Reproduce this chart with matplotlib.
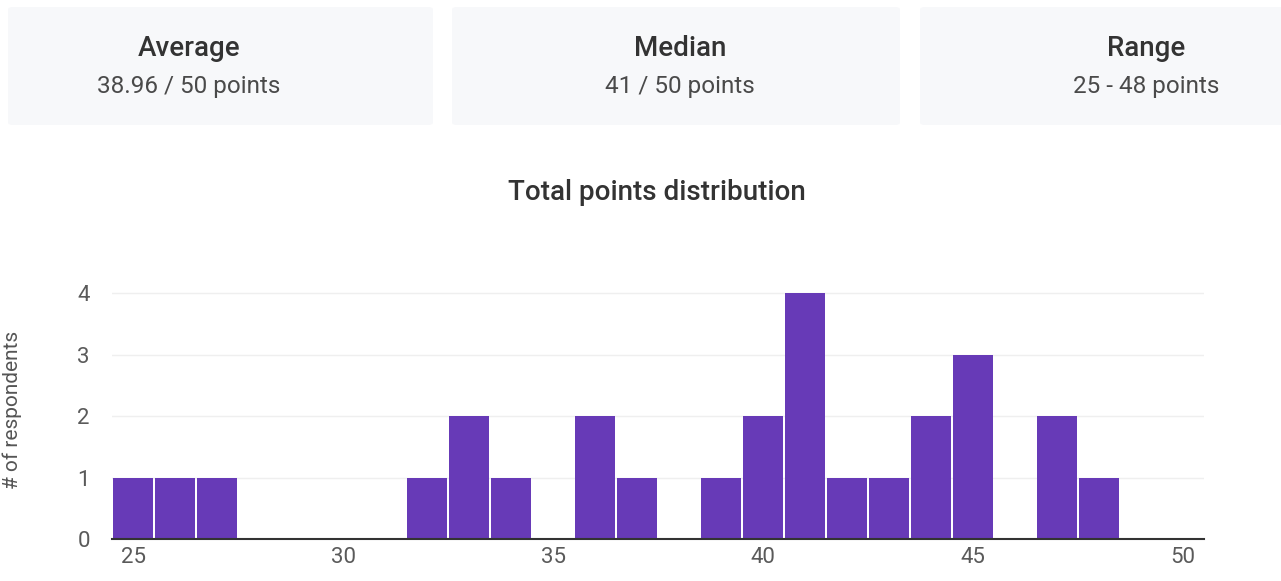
import matplotlib.pyplot as plt
from matplotlib.patches import FancyBboxPatch

plt.rcParams['font.family'] = ['Roboto', 'DejaVu Sans']

# score -> number of respondents
scores = [25, 26, 27, 32, 33, 34, 36, 37, 39, 40, 41, 42, 43, 44, 45, 47, 48]
counts = [1, 1, 1, 1, 2, 1, 2, 1, 1, 2, 4, 1, 1, 2, 3, 2, 1]

card_titles = ['Average', 'Median', 'Range']
card_values = ['38.96 / 50 points', '41 / 50 points', '25 - 48 points']
x_ticks = [25, 30, 35, 40, 45, 50]
y_ticks = [0, 1, 2, 3, 4]

fig = plt.figure(figsize=(12.81, 5.81), dpi=100)
W, H = 1281, 581

# summary cards along the top
card_boxes = [(8, 433), (452, 900), (920, 1290)]
card_centres = [189, 680, 1146]
for (x0, x1), cx, title, value in zip(card_boxes, card_centres, card_titles, card_values):
    box = FancyBboxPatch((x0 / W, 1 - 125 / H), (x1 - x0) / W, 118 / H,
                         boxstyle='round,pad=0,rounding_size=0.004',
                         transform=fig.transFigure, facecolor='#f7f8fa',
                         edgecolor='none', zorder=0)
    fig.patches.append(box)
    fig.text(cx / W, 1 - 48 / H, title, ha='center', va='center',
             fontsize=20, color='#333333', fontweight='medium')
    fig.text(cx / W, 1 - 86 / H, value, ha='center', va='center',
             fontsize=17.5, color='#4a4a4a')

fig.text(657 / W, 1 - 193 / H, 'Total points distribution', ha='center',
         va='center', fontsize=20, color='#333333', fontweight='medium')

ax = fig.add_axes([112 / W, 1 - 539 / H, (1204 - 112) / W, (539 - 290) / H])
ax.bar(scores, counts, width=0.94, color='#673ab7', zorder=3)
ax.set_xlim(24.5, 50.5)
ax.set_ylim(0, 4.05)
ax.set_xticks(x_ticks)
ax.set_yticks(y_ticks)
ax.tick_params(length=0, labelsize=16, labelcolor='#5a5a5a')
ax.tick_params(axis='x', pad=6)
ax.tick_params(axis='y', pad=16)
ax.grid(axis='y', color='#efefef', linewidth=1, zorder=0)
for side in ['top', 'right', 'left']:
    ax.spines[side].set_visible(False)
ax.spines['bottom'].set_color('#333333')
ax.spines['bottom'].set_linewidth(1.5)
ax.spines['bottom'].set_zorder(4)

fig.text(12 / W, 1 - 410 / H, '# of respondents', rotation=90, ha='center',
         va='center', fontsize=15, color='#555555')

fig.savefig('out.png', dpi=100)
